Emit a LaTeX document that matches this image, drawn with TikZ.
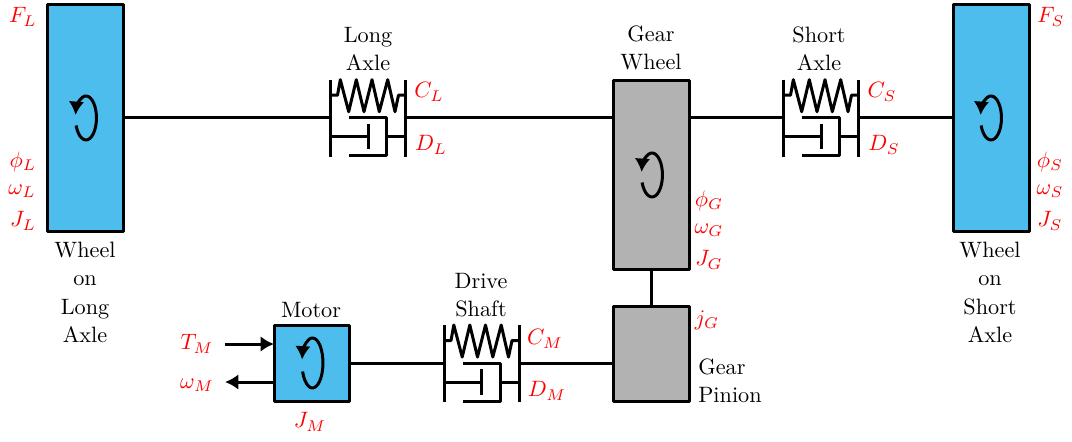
\documentclass[tikz,border=0pt]{standalone}
\usetikzlibrary{arrows.meta}
\definecolor{wheelblue}{HTML}{4DBDEE}
\definecolor{geargray}{HTML}{B2B2B2}
\definecolor{labelred}{HTML}{FF0000}
\tikzset{
  x=0.45pt,y=-0.45pt,
  line/.style={line width=1.35pt,line join=round},
  tip/.style={-{Latex[length=6pt,width=7pt]}},
  mass/.style={draw,line width=1.35pt,line join=round,inner sep=0pt,outer sep=0pt,fill=#1},
  sym/.style={text=labelred,inner sep=0pt},
  caption/.style={align=center,inner sep=0pt,font=\fontsize{10}{12.7}\selectfont},
  pics/springdamper/.style={code={
    \coordinate (-l) at (-37.5,0);
    \coordinate (-r) at (37.5,0);
    \draw[line] (-37.5,-38) -- (-37.5,39);
    \draw[line] (37.5,-38) -- (37.5,39);
    \draw[line] (-37.5,-22.5) -- (-30.5,-22.5) -- (-27.7,-38) -- (-19.3,-6) -- (-11.7,-38) -- (-4,-6)
       -- (4,-38) -- (11.3,-6) -- (19.7,-38) -- (27,-6) -- (30.5,-22.5) -- (37.5,-22.5);
    \draw[line] (-37.5,19) -- (0,19);
    \draw[line] (0,6.3) -- (0,31.7);
    \draw[line] (-18.7,0) -- (18.7,0) -- (18.7,38) -- (-18.7,38);
    \draw[line] (18.7,19) -- (37.5,19);
  }},
  pics/spin/.style={code={
    \draw[line,tip] (-9.9,{0.34*#1}) arc[start angle=160,end angle=-172,x radius=10.5,y radius=#1];
  }}
}
\begin{document}
\begin{tikzpicture}
\useasboundingbox (0,0) rectangle (1072,441);
% masses
\node[mass=wheelblue,minimum width=76*.45pt,minimum height=227*.45pt] (wl) at (85,117.5) {};
\node[mass=wheelblue,minimum width=76*.45pt,minimum height=227*.45pt] (ws) at (991,117.5) {};
\node[mass=geargray,minimum width=76*.45pt,minimum height=189*.45pt] (gw) at (651,174.5) {};
\node[mass=geargray,minimum width=76*.45pt,minimum height=95*.45pt] (gp) at (651,353.5) {};
\node[mass=wheelblue,minimum width=75*.45pt,minimum height=76*.45pt] (mo) at (311.5,363) {};
% spring dampers
\pic (la) at (368,117.7) {springdamper};
\pic (sa) at (821,117.7) {springdamper};
\pic (ds) at (481.5,363) {springdamper};
% connectors
\draw[line] (wl.east |- la-l) -- (la-l);
\draw[line] (la-r) -- (gw.west |- la-r);
\draw[line] (gw.east |- sa-l) -- (sa-l);
\draw[line] (sa-r) -- (ws.west |- sa-r);
\draw[line] (gw.south) -- (gp.north);
\draw[line] (mo.east |- ds-l) -- (ds-l);
\draw[line] (ds-r) -- (gp.west |- ds-r);
\coordinate (ti) at (225,344);
\coordinate (wo) at (225,382);
\draw[line,tip] (ti) -- (mo.west |- ti);
\draw[line,tip] (mo.west |- wo) -- (wo);
% spin arrows
\pic at (86,118) {spin=22};
\pic at (991,118) {spin=22};
\pic at (652,175) {spin=22};
\pic at (312.5,363) {spin=25};
% symbols
\node[sym] (a1) at (23,17) {$F_L$};
\node[sym] (a2) at (23,162) {$\phi_L$};
\node[sym] (a3) at (22,191) {$\omega_L$};
\node[sym] (a4) at (23,221) {$J_L$};
\node[sym] (b1) at (1051,17) {$F_S$};
\node[sym] (b2) at (1050,162) {$\phi_S$};
\node[sym] (b3) at (1050,191) {$\omega_S$};
\node[sym] (b4) at (1050,221) {$J_S$};
\node[sym] (c1) at (429,92) {$C_L$};
\node[sym] (c2) at (431,145) {$D_L$};
\node[sym] (c3) at (882,92) {$C_S$};
\node[sym] (c4) at (884,145) {$D_S$};
\node[sym] (c5) at (545,339) {$C_M$};
\node[sym] (c6) at (547,391) {$D_M$};
\node[sym] (g1) at (709,201) {$\phi_G$};
\node[sym] (g2) at (709,230) {$\omega_G$};
\node[sym] (g3) at (709,260) {$J_G$};
\node[sym] (g4) at (707,320) {$j_G$};
\node[sym] (m1) at (197,344) {$T_M$};
\node[sym] (m2) at (197,385) {$\omega_M$};
\node[sym] (m3) at (310,422) {$J_M$};
% captions
\node[caption] (t1) at (368,49) {Long\\Axle};
\node[caption] (t2) at (651,48) {Gear\\Wheel};
\node[caption] (t3) at (819,49) {Short\\Axle};
\node[caption] (t4) at (481,295) {Drive\\Shaft};
\node[caption] (t5) at (311,310) {Motor};
\node[caption] (t6) at (85,292.5) {Wheel\\on\\Long\\Axle};
\node[caption] (t7) at (990,292.5) {Wheel\\on\\Short\\Axle};
\node[caption,align=left] (t8) at (730,381) {Gear\\Pinion};
\end{tikzpicture}
\end{document}
